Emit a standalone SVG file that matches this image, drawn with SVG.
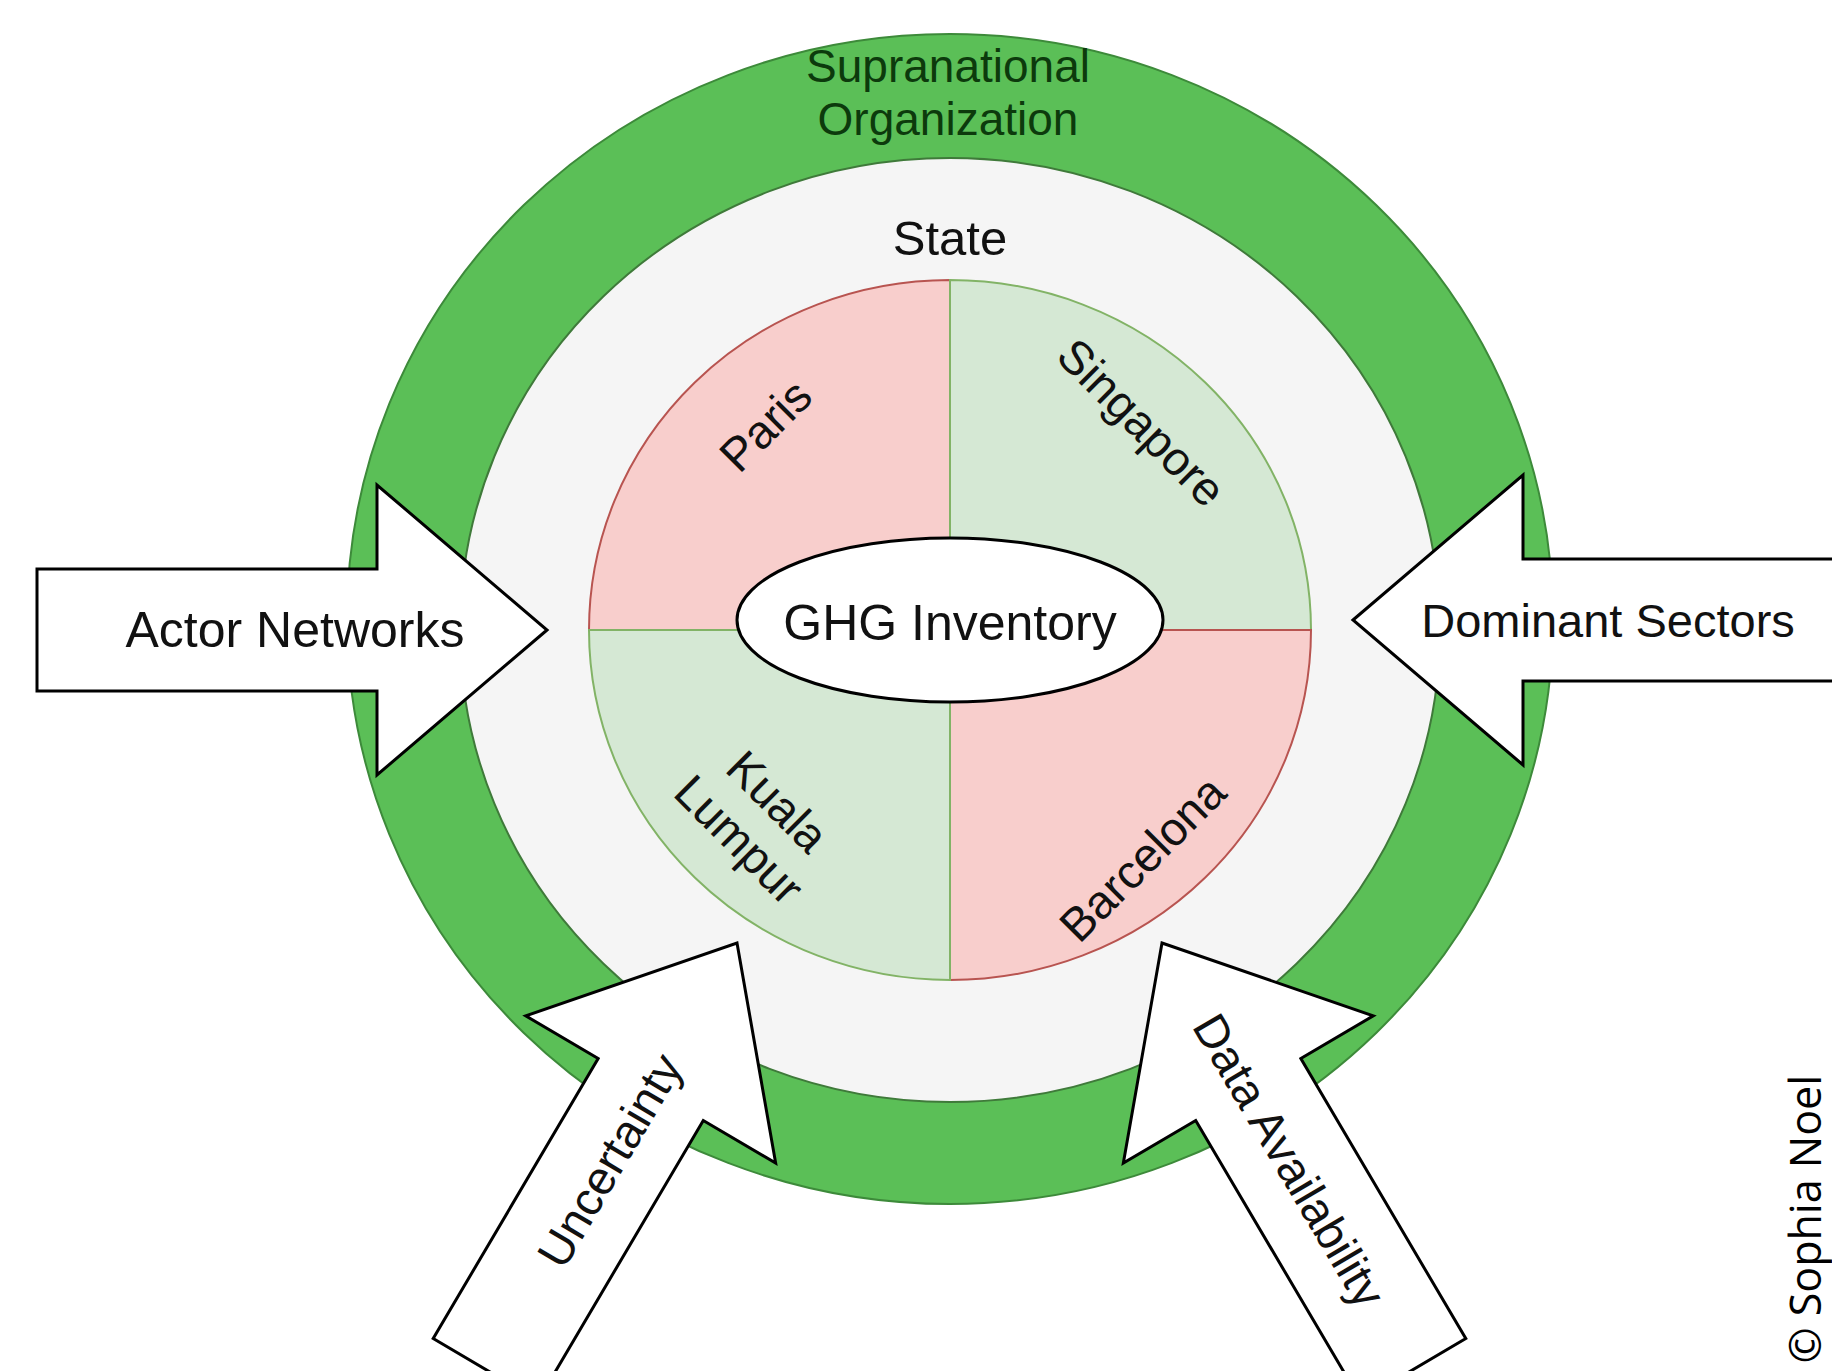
<svg xmlns="http://www.w3.org/2000/svg" width="1832" height="1371" viewBox="0 0 1832 1371">
<style>
.lbl{font-family:"Liberation Sans",Arial,Helvetica,sans-serif;font-size:47px;fill:#111;text-anchor:middle}
.ring{font-family:"Liberation Sans",Arial,Helvetica,sans-serif;font-size:46px;fill:#0c3a0c;text-anchor:middle}
.arrow{fill:#ffffff;stroke:#000;stroke-width:3;stroke-linejoin:miter}
.pink{fill:#f8cecc;stroke:#b85450;stroke-width:2}
.green{fill:#d5e8d4;stroke:#82b366;stroke-width:2}
.copy{font-family:"Open Sans","Liberation Sans",sans-serif;font-size:43px;fill:#000;text-anchor:end}
</style>
<rect width="1832" height="1371" fill="#ffffff"/>
<g id="supranational">
<ellipse cx="950" cy="619" rx="603" ry="585" fill="#5bbf57" stroke="#3d8a3a" stroke-width="2"/>
<text class="ring" x="948" y="82">Supranational</text>
<text class="ring" x="948" y="135">Organization</text>
</g>
<g id="state">
<ellipse cx="950" cy="630" rx="490" ry="472" fill="#f5f5f5" stroke="#3f7a3a" stroke-width="2"/>
<text class="lbl" x="950" y="255" style="font-size:49px">State</text>
</g>
<g id="paris">
<path class="pink" d="M950,630 L589,630 A361,350 0 0 1 950,280 Z"/>
<text class="lbl" transform="translate(777,437) rotate(-45)" x="0" y="0">Paris</text>
</g>
<g id="singapore">
<path class="green" d="M950,630 L950,280 A361,350 0 0 1 1311,630 Z"/>
<text class="lbl" transform="translate(1130,434) rotate(45)" x="0" y="0">Singapore</text>
</g>
<g id="barcelona">
<path class="pink" d="M950,630 L1311,630 A361,350 0 0 1 950,980 Z"/>
<text class="lbl" transform="translate(1154,870) rotate(-45)" x="0" y="0">Barcelona</text>
</g>
<g id="kuala-lumpur">
<path class="green" d="M950,630 L950,980 A361,350 0 0 1 589,630 Z"/>
<text class="lbl" transform="translate(766,813) rotate(45)"><tspan x="0" y="0">Kuala</tspan><tspan x="0" y="54">Lumpur</tspan></text>
</g>
<g id="ghg-inventory">
<ellipse cx="950" cy="620" rx="213" ry="82" fill="#ffffff" stroke="#000" stroke-width="3"/>
<text class="lbl" x="950" y="640" style="font-size:50px">GHG Inventory</text>
</g>
<g id="connectors">
<g id="actor-networks" transform="translate(547,630) rotate(90)">
<polygon class="arrow" points="0,0 145,170 61,170 61,510 -61,510 -61,170 -145,170"/>
<text class="lbl" transform="translate(17,252) rotate(-90)" style="font-size:50px">Actor Networks</text>
</g>
<g id="dominant-sectors" transform="translate(1353,620) rotate(-90)">
<polygon class="arrow" points="0,0 145,170 61,170 61,530 -61,530 -61,170 -145,170"/>
<text class="lbl" transform="translate(-17,255) rotate(90)">Dominant Sectors</text>
</g>
<g id="uncertainty" transform="translate(737,943) rotate(30.5)">
<polygon class="arrow" points="0,0 145,170 61,170 61,495 -61,495 -61,170 -145,170"/>
<text class="lbl" transform="translate(17,252) rotate(-90)">Uncertainty</text>
</g>
<g id="data-availability" transform="translate(1162,943) rotate(-30.5)">
<polygon class="arrow" points="0,0 145,170 61,170 61,495 -61,495 -61,170 -145,170"/>
<text class="lbl" transform="translate(-17,252) rotate(90)">Data Availability</text>
</g>
</g>
<text class="copy" transform="translate(1821,1075) rotate(-90)">© Sophia Noel</text>
</svg>
